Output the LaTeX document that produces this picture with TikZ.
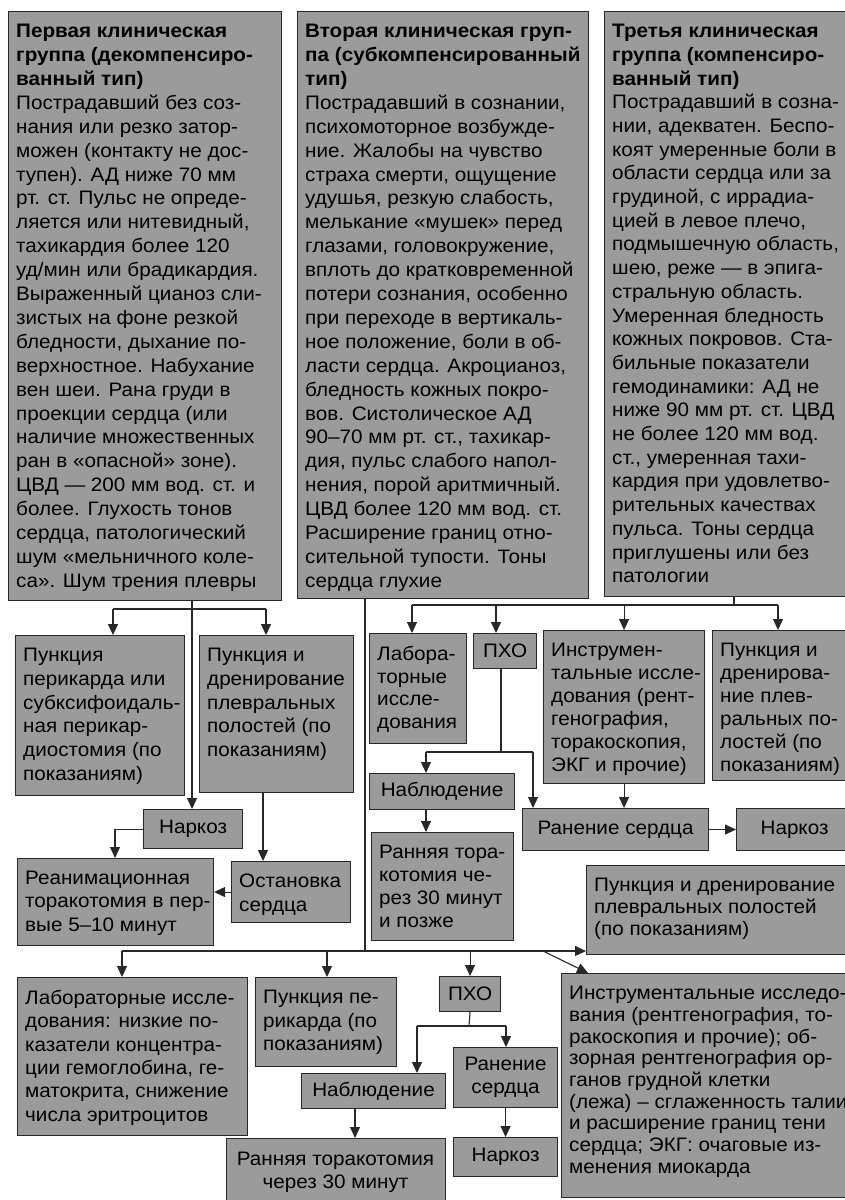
\documentclass[tikz,border=0pt]{standalone}
\usepackage{fontspec}
\setmainfont[FakeStretch=1.06,BoldFeatures={FakeStretch=1.06}]{Liberation Sans}
\usetikzlibrary{arrows.meta}
\definecolor{boxfill}{RGB}{155,155,155}
\definecolor{boxline}{RGB}{40,40,40}
\tikzset{
  box/.style={draw=boxline, fill=boxfill, line width=1.1pt, inner sep=0pt, anchor=north west, rectangle},
  txt/.style={align=left, inner sep=0pt, anchor=north west, text=black},
  conn/.style={draw=boxline, line width=1.1pt},
  arr/.style={conn, -{Triangle[width=10pt,length=11pt]}},
}
\newcommand{\tbox}[7][23]{%
  \node[box, minimum width={(#5-#3)*1pt}, minimum height={(#6-#4)*1pt}] (#2) at (#3,#4) {};
  \node[txt, font=\fontsize{19.5}{#1}\selectfont] (#2-t) at (#3+8,#4+13) {#7};}
\newcommand{\cbox}[6]{%
  \node[box, minimum width={(#4-#2)*1pt}, minimum height={(#5-#3)*1pt}, align=center, font=\fontsize{19.5}{23}\selectfont] (#1) at (#2,#3) {#6};}
\begin{document}
\begin{tikzpicture}[x=1pt,y=-1pt]
\useasboundingbox (0,0) rectangle (845,1200);
\fill[white] (0,0) rectangle (845,1200);
% ---- top boxes
\tbox[23.9]{g1}{8}{11}{281}{600}{\textbf{Первая клиническая}\\\textbf{группа (декомпенсиро-}\\\textbf{ванный тип)}\\Пострадавший без соз-\\нания или резко затор-\\можен (контакту не дос-\\тупен). АД ниже 70 мм\\рт. ст. Пульс не опреде-\\ляется или нитевидный,\\тахикардия более 120\\уд/мин или брадикардия.\\Выраженный цианоз сли-\\зистых на фоне резкой\\бледности, дыхание по-\\верхностное. Набухание\\вен шеи. Рана груди в\\проекции сердца (или\\наличие множественных\\ран в «опасной» зоне).\\ЦВД — 200 мм вод. ст. и\\более. Глухость тонов\\сердца, патологический\\шум «мельничного коле-\\са». Шум трения плевры}
\tbox[23.9]{g2}{297}{11}{588}{598}{\textbf{Вторая клиническая груп-}\\\textbf{па (субкомпенсированный}\\\textbf{тип)}\\Пострадавший в сознании,\\психомоторное возбужде-\\ние. Жалобы на чувство\\страха смерти, ощущение\\удушья, резкую слабость,\\мелькание «мушек» перед\\глазами, головокружение,\\вплоть до кратковременной\\потери сознания, особенно\\при переходе в вертикаль-\\ное положение, боли в об-\\ласти сердца. Акроцианоз,\\бледность кожных покро-\\вов. Систолическое АД\\90–70 мм рт. ст., тахикар-\\дия, пульс слабого напол-\\нения, порой аритмичный.\\ЦВД более 120 мм вод. ст.\\Расширение границ отно-\\сительной тупости. Тоны\\сердца глухие}
\tbox[23.7]{g3}{604}{11}{852}{596}{\textbf{Третья клиническая}\\\textbf{группа (компенсиро-}\\\textbf{ванный тип)}\\Пострадавший в созна-\\нии, адекватен. Беспо-\\коят умеренные боли в\\области сердца или за\\грудиной, с иррадиа-\\цией в левое плечо,\\подмышечную область,\\шею, реже — в эпига-\\стральную область.\\Умеренная бледность\\кожных покровов. Ста-\\бильные показатели\\гемодинамики: АД не\\ниже 90 мм рт. ст. ЦВД\\не более 120 мм вод.\\ст., умеренная тахи-\\кардия при удовлетво-\\рительных качествах\\пульса. Тоны сердца\\приглушены или без\\патологии}
% ---- group 1
\tbox[23.7]{a1}{15}{635}{184}{795}{Пункция\\перикарда или\\субксифоидаль-\\ная перикар-\\диостомия (по\\показаниям)}
\tbox[23.7]{a2}{199}{635}{353}{792}{Пункция и\\дренирование\\плевральных\\полостей (по\\показаниям)}
\cbox{a3}{143}{809}{242}{848}{Наркоз}
\tbox[23.3]{a4}{17}{858}{213}{945}{Реанимационная\\торакотомия в пер-\\вые 5–10 минут}
\tbox[23.3]{a5}{231}{861}{350}{922}{Остановка\\сердца}
% ---- group 3
\tbox[22.5]{c1}{369}{633}{466}{743}{Лабора-\\торные\\иссле-\\дования}
\cbox{c2}{473}{633}{536}{668}{ПХО}
\tbox[23]{c3}{543}{630}{704}{783}{Инструмен-\\тальные иссле-\\дования (рент-\\генография,\\торакоскопия,\\ЭКГ и прочие)}
\tbox[23]{c4}{712}{630}{852}{780}{Пункция и\\дренирова-\\ние плев-\\ральных по-\\лостей (по\\показаниям)}
\cbox{c5}{369}{773}{514}{809}{Наблюдение}
\cbox{c6}{522}{808}{708}{850}{Ранение сердца}
\cbox{c7}{736}{808}{852}{850}{Наркоз}
\tbox[22.8]{c8}{371}{832}{513}{940}{Ранняя тора-\\котомия че-\\рез 30 минут\\и позже}
% ---- group 2
\tbox[22]{b1}{586}{865}{852}{954}{Пункция и дренирование\\плевральных полостей\\(по показаниям)}
\tbox[23.3]{b2}{17}{977}{247}{1135}{Лабораторные иссле-\\дования: низкие по-\\казатели концентра-\\ции гемоглобина, ге-\\матокрита, снижение\\числа эритроцитов}
\tbox[23.5]{b3}{255}{977}{396}{1066}{Пункция пе-\\рикарда (по\\показаниям)}
\cbox{b4}{439}{976}{500}{1011}{ПХО}
\cbox{b5}{301}{1073}{445}{1108}{Наблюдение}
\cbox{b6}{453}{1047}{557}{1107}{Ранение\\сердца}
\cbox{b7}{453}{1137}{557}{1176}{Наркоз}
\node[box, minimum width=219pt, minimum height=80pt] (b8) at (226,1138) {};
\node[align=center, inner sep=0pt, anchor=north, font=\fontsize{19.5}{23}\selectfont] (b8-t) at (335.5,1152) {Ранняя торакотомия\\через 30 минут};
\tbox[21.7]{b9}{561}{973}{852}{1197}{Инструментальные исследо-\\вания (рентгенография, то-\\ракоскопия и прочие); об-\\зорная рентгенография ор-\\ганов грудной клетки\\(лежа) – сглаженность талии\\и расширение границ тени\\сердца; ЭКГ: очаговые из-\\менения миокарда}
% ---- connectors group 1
\coordinate (j1) at (192,609);
\coordinate (j1l) at (113,609);
\coordinate (j1r) at (266,609);
\draw[arr] (j1 |- g1.south) -- (j1 |- a3.north);
\draw[conn] (j1l) -- (j1r);
\draw[arr] (j1l) -- (j1l |- a1.north);
\draw[arr] (j1r) -- (j1r |- a2.north);
\coordinate (k1) at (263,0);
\draw[arr] (k1 |- a2.south) -- (k1 |- a5.north);
\coordinate (k2) at (115,0);
\draw[arr] (a3.west) -| (k2 |- a4.north);
\draw[arr] (a5.west) -- (a5.west -| a4.east);
% ---- connectors group 3
\coordinate (j3) at (734,605);
\coordinate (j3l) at (412,605);
\coordinate (j3m) at (496,605);
\coordinate (j3r) at (778,605);
\draw[conn] (j3 |- g3.south) -- (j3);
\draw[conn] (j3l) -- (j3r);
\draw[arr] (j3l) -- (j3l |- c1.north);
\draw[arr] (j3m) -- (j3m |- c2.north);
\draw[arr] (c3.north |- j3) -- (c3.north);
\draw[arr] (j3r) -- (j3r |- c4.north);
\coordinate (j4) at (501,752);
\coordinate (j4l) at (426,752);
\coordinate (j4r) at (533,752);
\draw[conn] (j4 |- c2.south) -- (j4);
\draw[conn] (j4l) -- (j4r);
\draw[arr] (j4l) -- (j4l |- c5.north);
\draw[arr] (j4r) -- (j4r |- c6.north);
\draw[arr] (c3.south) -- (c3.south |- c6.north);
\draw[arr] (c6.east) -- (c7.west);
\draw[arr] (j4l |- c5.south) -- (j4l |- c8.north);
% ---- connectors group 2
\coordinate (j2) at (365,951);
\coordinate (j2l) at (122,951);
\coordinate (j2m) at (327,951);
\coordinate (j2d) at (543,951);
\coordinate (t9) at (588,973);
\draw[conn] (j2 |- g2.south) -- (j2);
\draw[arr] (j2l) -- (j2 -| b1.west);
\draw[arr] (j2l) -- (j2l |- b2.north);
\draw[arr] (j2m) -- (j2m |- b3.north);
\draw[arr] (b4.north |- j2) -- (b4.north);
\draw[arr] (j2d) -- (t9);
\coordinate (j5) at (469,1026);
\coordinate (j5l) at (417,1026);
\coordinate (j5r) at (506,1026);
\draw[conn] (b4.south) -- (j5);
\draw[conn] (j5l) -- (j5r);
\draw[arr] (j5l) -- (j5l |- b5.north);
\draw[arr] (j5r) -- (j5r |- b6.north);
\coordinate (k3) at (355,0);
\draw[arr] (k3 |- b5.south) -- (k3 |- b8.north);
\draw[arr] (b6.south) -- (b6.south |- b7.north);
\end{tikzpicture}
\end{document}
